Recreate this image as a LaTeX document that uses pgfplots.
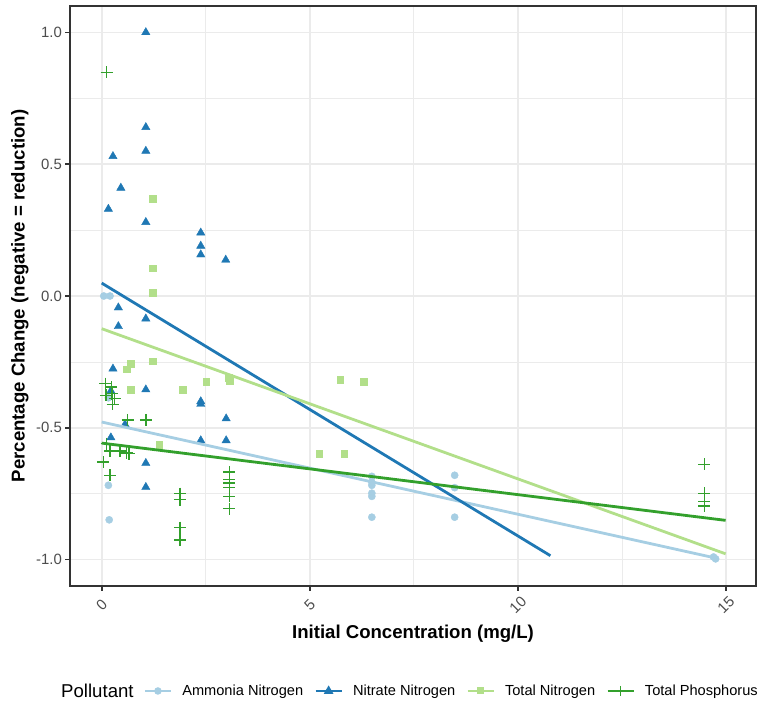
\documentclass[border=0pt]{standalone}
\usepackage{pgfplots}
\pgfplotsset{compat=1.18}
\usepackage{fontspec}
\setmainfont{Liberation Sans}

\definecolor{ammonia}{HTML}{A6CEE3}
\definecolor{nitrate}{HTML}{1F78B4}
\definecolor{totaln}{HTML}{B2DF8A}
\definecolor{totalp}{HTML}{33A02C}
\definecolor{gridgrey}{HTML}{EBEBEB}
\definecolor{txtgrey}{HTML}{4D4D4D}
\definecolor{framegrey}{HTML}{333333}

\pgfplotsset{
  keyline/.style={legend image code/.code={%
    \draw[mark repeat=2,mark phase=2,##1] plot coordinates {(0pt,0pt) (13pt,0pt) (26pt,0pt)};}},
}

\begin{document}
\begin{tikzpicture}[x=1pt,y=1pt]
\useasboundingbox (-70,-116) rectangle (694,586);
\begin{axis}[
  at={(0,0)}, anchor=south west,
  scale only axis, width=686pt, height=580pt,
  xmin=-0.762, xmax=15.72, ymin=-1.1, ymax=1.1,
  xtick={0,5,10,15}, xticklabels={0,5,10,15},
  ytick={-1,-0.5,0,0.5,1}, yticklabels={-1.0,-0.5,0.0,0.5,1.0},
  minor xtick={2.5,7.5,12.5}, minor ytick={-0.75,-0.25,0.25,0.75},
  grid=both,
  major grid style={gridgrey, line width=1.6pt},
  minor grid style={gridgrey, line width=0.8pt},
  axis line style={framegrey, line width=1.6pt},
  tick align=outside, major tick length=4.6pt, minor tick length=0pt,
  tick style={framegrey, line width=1.6pt},
  xtick pos=bottom, ytick pos=left,
  ticklabel style={font=\fontsize{14.9}{17}\selectfont, text=txtgrey},
  xticklabel style={anchor=center, yshift=-14pt, rotate=45},
  xlabel={Initial Concentration (mg/L)},
  ylabel={Percentage Change (negative = reduction)},
  label style={font=\fontsize{18.6}{22}\selectfont\bfseries},
  xlabel style={at={(axis description cs:0.5,-0.083)}, anchor=center},
  ylabel style={at={(axis description cs:-0.073,0.5)}, anchor=center},
  legend columns=4,
  legend style={at={(axis description cs:0.1076,-0.181)}, anchor=west,
    draw=none, fill=none, inner sep=0pt,
    font=\fontsize{14.6}{17}\selectfont,
    nodes={inner sep=1.5pt},
    /tikz/every odd column/.append style={column sep=9pt},
    /tikz/every even column/.append style={column sep=10pt}},
  legend cell align=left,
  clip mode=individual,
]

% Ammonia Nitrogen
\addplot[only marks, mark=*, mark size=3.6pt, color=ammonia, forget plot] coordinates {
  (0.05,0.0) (0.2,0.0) (0.16,-0.386) (0.16,-0.718) (0.18,-0.849)
  (6.49,-0.684) (6.49,-0.706) (6.49,-0.718) (6.49,-0.748) (6.49,-0.76) (6.49,-0.839)
  (8.48,-0.68) (8.48,-0.727) (8.48,-0.839)
  (14.7,-0.99) (14.75,-0.997)
};
% Nitrate Nitrogen
\addplot[only marks, mark=triangle*, mark size=4.8pt, color=nitrate, forget plot] coordinates {
  (1.06,1.0) (1.06,0.64) (1.06,0.55) (0.27,0.53) (0.46,0.41) (0.16,0.33)
  (1.06,0.28) (2.38,0.24) (2.38,0.19) (2.38,0.157) (2.98,0.137)
  (0.40,-0.044) (1.06,-0.086) (0.40,-0.115) (0.27,-0.276) (1.06,-0.355)
  (0.22,-0.36) (2.38,-0.40) (2.38,-0.41) (2.99,-0.465) (0.56,-0.487)
  (2.38,-0.548) (2.99,-0.548) (0.22,-0.537) (1.06,-0.634) (1.06,-0.725)
};
% Total Nitrogen
\addplot[only marks, mark=square*, mark size=3.3pt, color=totaln, forget plot] coordinates {
  (1.22,0.37) (1.22,0.105) (1.22,0.013) (0.69,-0.257) (0.60,-0.277)
  (1.22,-0.247) (0.70,-0.355) (1.94,-0.355) (2.51,-0.326) (3.05,-0.31)
  (3.07,-0.322) (1.38,-0.565) (5.73,-0.317) (6.29,-0.326) (5.23,-0.598) (5.83,-0.598)
};
% Total Phosphorus
\addplot[only marks, mark=+, mark size=6pt, line width=1.4pt, color=totalp, forget plot] coordinates {
  (0.12,0.848)
  (0.09,-0.332) (0.23,-0.345) (0.10,-0.377) (0.25,-0.37) (0.31,-0.389) (0.26,-0.411)
  (0.62,-0.47) (1.06,-0.47) (0.12,-0.56) (0.20,-0.588) (0.44,-0.588) (0.60,-0.596)
  (0.66,-0.598) (0.04,-0.63) (0.20,-0.68)
  (1.88,-0.75) (1.88,-0.773) (1.88,-0.879) (1.88,-0.925)
  (3.07,-0.668) (3.07,-0.697) (3.07,-0.71) (3.07,-0.727) (3.07,-0.76) (3.07,-0.807)
  (14.48,-0.639) (14.48,-0.748) (14.48,-0.78) (14.48,-0.797)
};

% Linear fits per pollutant
\addplot[ammonia, line width=2.8pt, forget plot] coordinates {(0,-0.478) (14.75,-0.994)};
\addplot[nitrate, line width=2.8pt, forget plot] coordinates {(0,0.049) (10.78,-0.985)};
\addplot[totaln, line width=2.8pt, forget plot] coordinates {(0,-0.124) (14.99,-0.978)};
\addplot[totalp, line width=2.8pt, forget plot] coordinates {(0,-0.558) (14.99,-0.851)};

% Legend keys
\addlegendimage{keyline, ammonia, line width=1.8pt, mark=*, mark size=2.8pt}
\addlegendentry{Ammonia Nitrogen}
\addlegendimage{keyline, nitrate, line width=1.8pt, mark=triangle*, mark size=3.8pt}
\addlegendentry{Nitrate Nitrogen}
\addlegendimage{keyline, totaln, line width=1.8pt, mark=square*, mark size=2.6pt}
\addlegendentry{Total Nitrogen}
\addlegendimage{keyline, totalp, line width=1.8pt, mark=+, mark size=5pt, mark options={line width=1.4pt}}
\addlegendentry{Total Phosphorus}

\node[font=\fontsize{18.6}{22}\selectfont, anchor=center] at (axis description cs:0.040,-0.181) {Pollutant};
\end{axis}
\end{tikzpicture}
\end{document}
